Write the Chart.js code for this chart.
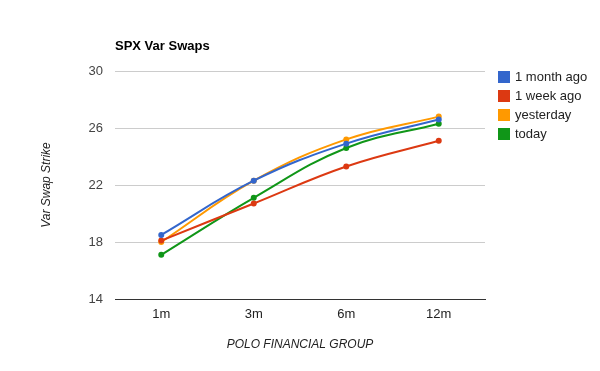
<!DOCTYPE html>
<html>
<head>
<meta charset="UTF-8">
<script src="https://cdn.jsdelivr.net/npm/chart.js"></script>
<style>
  body { margin: 0; background: #fff; }
  #wrap { width: 600px; height: 371px; }
</style>
</head>
<body>
<div id="wrap"><canvas id="c" width="600" height="371"></canvas></div>
<script>
const categories = ['1m', '3m', '6m', '12m'];
const monthAgo = [18.5, 22.3, 24.9, 26.6];
const weekAgo = [18.1, 20.7, 23.3, 25.1];
const yesterday = [18.0, 22.3, 25.2, 26.8];
const today = [17.1, 21.1, 24.6, 26.3];
const yTicks = [14, 18, 22, 26, 30];

const FONT = 'Arial, "Liberation Sans", sans-serif';

function series(label, data, color) {
  return {
    label, data,
    borderColor: color, backgroundColor: color,
    borderWidth: 2, pointRadius: 2, pointHoverRadius: 3,
    tension: 0.4, fill: false
  };
}

// title + legend drawn by hand, google-charts style
const decor = {
  id: 'decor',
  afterDraw(chart) {
    const ctx = chart.ctx;
    ctx.save();
    ctx.fillStyle = '#000';
    ctx.font = 'bold 13px ' + FONT;
    ctx.textBaseline = 'alphabetic';
    ctx.fillText('SPX Var Swaps', 115, 50);

    ctx.font = '13px ' + FONT;
    ctx.textBaseline = 'middle';
    chart.data.datasets.forEach((ds, i) => {
      const y = 77 + i * 19;
      ctx.fillStyle = ds.borderColor;
      ctx.fillRect(498, y - 6, 12, 12);
      ctx.fillStyle = '#222';
      ctx.fillText(ds.label, 515, y);
    });
    ctx.restore();
  }
};

new Chart(document.getElementById('c'), {
  type: 'line',
  data: {
    labels: categories,
    datasets: [
      series('1 month ago', monthAgo, '#3366cc'),
      series('1 week ago', weekAgo, '#dc3912'),
      series('yesterday', yesterday, '#ff9900'),
      series('today', today, '#109618')
    ]
  },
  options: {
    responsive: false,
    animation: false,
    layout: { padding: { top: 71, right: 115, left: 0, bottom: 0 } },
    plugins: { legend: { display: false }, tooltip: { enabled: false } },
    scales: {
      x: {
        offset: true,
        grid: { display: false, drawTicks: false },
        border: { color: '#333', width: 1 },
        ticks: { color: '#222', font: { family: FONT, size: 13 }, padding: 8 },
        title: {
          display: true, text: 'POLO FINANCIAL GROUP', color: '#222',
          font: { family: FONT, size: 12, style: 'italic' },
          padding: { top: 0, bottom: 19 }
        },
        afterFit(s) { s.height = 72; }
      },
      y: {
        min: 14, max: 30,
        afterBuildTicks(s) { s.ticks = yTicks.map(v => ({ value: v })); },
        grid: { color: '#cccccc', drawTicks: false },
        border: { display: false },
        ticks: { color: '#444', font: { family: FONT, size: 13 }, padding: 12 },
        title: {
          display: true, text: 'Var Swap Strike', color: '#222',
          font: { family: FONT, size: 12, style: 'italic' },
          padding: { top: 39, bottom: 0 }
        },
        afterFit(s) { s.width = 115; }
      }
    }
  },
  plugins: [decor]
});
</script>
</body>
</html>
